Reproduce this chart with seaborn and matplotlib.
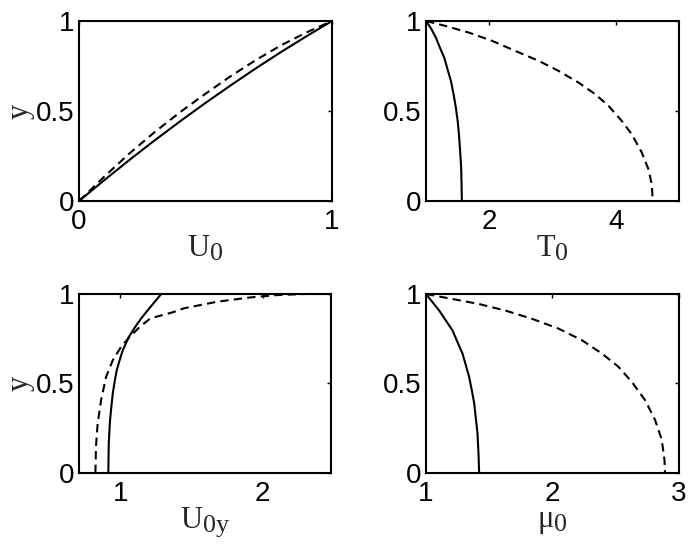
import numpy as np
import pandas as pd
import matplotlib
matplotlib.use("Agg")
import matplotlib.pyplot as plt
import matplotlib._mathtext as _mt
import seaborn as sns

_mt.SHRINK_FACTOR = 0.85

sns.set_style("white")
plt.rcParams.update({
    "font.family": ["Liberation Sans", "DejaVu Sans"],
    "mathtext.fontset": "custom",
    "mathtext.rm": "Liberation Serif",
    "mathtext.it": "Liberation Serif:italic",
    "xtick.direction": "in",
    "ytick.direction": "in",
    "xtick.top": True,
    "ytick.right": True,
    "axes.linewidth": 1.5,
    "axes.edgecolor": "black",
})

# Panel 1: y vs U_0
u0_x = [0.0, 0.1, 0.2, 0.3, 0.4, 0.5, 0.6, 0.7, 0.8, 0.9, 1.0]
u0_solid_y = [0.0, 0.116, 0.229, 0.338, 0.443, 0.545, 0.643, 0.738, 0.829, 0.916, 1.0]
u0_dash_y = [0.0, 0.136, 0.265, 0.384, 0.494, 0.596, 0.694, 0.784, 0.866, 0.937, 1.0]

# Panel 2: y vs T_0
t0_solid_x = [1.0, 1.079, 1.157, 1.220, 1.289, 1.341, 1.394, 1.436, 1.472, 1.504,
              1.525, 1.541, 1.556, 1.562, 1.567]
t0_solid_y = [1.0, 0.959, 0.907, 0.852, 0.796, 0.731, 0.667, 0.593, 0.519, 0.435,
              0.352, 0.269, 0.185, 0.093, 0.0]
t0_dash_x = [1.0, 1.315, 1.682, 2.05, 2.417, 2.785, 3.1, 3.415, 3.677, 3.887,
             4.097, 4.255, 4.412, 4.517, 4.57, 4.585]
t0_dash_y = [1.0, 0.972, 0.935, 0.889, 0.833, 0.778, 0.722, 0.657, 0.593, 0.528,
             0.444, 0.37, 0.269, 0.176, 0.093, 0.0]

# Panel 3: y vs U_0y
u0y_solid_x = [0.916, 0.917, 0.919, 0.923, 0.928, 0.937, 0.947, 0.960, 0.975, 0.995,
               1.017, 1.059, 1.111, 1.145, 1.181, 1.230, 1.287]
u0y_solid_y = [0.0, 0.08, 0.167, 0.23, 0.296, 0.37, 0.444, 0.51, 0.574, 0.63,
               0.685, 0.759, 0.824, 0.862, 0.898, 0.945, 1.0]
u0y_dash_x = [0.825, 0.829, 0.841, 0.865, 0.900, 0.947, 1.005, 1.064, 1.135, 1.211,
              1.369, 1.446, 1.681, 1.915, 2.10, 2.30, 2.48]
u0y_dash_y = [0.0, 0.148, 0.278, 0.407, 0.537, 0.63, 0.704, 0.759, 0.815, 0.864,
              0.898, 0.92, 0.957, 0.981, 0.994, 1.0, 1.0]

# Panel 4: y vs mu_0
mu0_solid_x = [1.0, 1.052, 1.105, 1.157, 1.21, 1.249, 1.289, 1.315, 1.341, 1.362,
               1.381, 1.394, 1.407, 1.415, 1.42]
mu0_solid_y = [1.0, 0.954, 0.907, 0.852, 0.796, 0.731, 0.667, 0.602, 0.537, 0.463,
               0.389, 0.306, 0.222, 0.111, 0.0]
mu0_dash_x = [1.0, 1.21, 1.42, 1.63, 1.84, 2.05, 2.234, 2.391, 2.522, 2.627,
              2.732, 2.811, 2.864, 2.885, 2.89]
mu0_dash_y = [1.0, 0.972, 0.944, 0.907, 0.861, 0.806, 0.741, 0.667, 0.593, 0.509,
              0.407, 0.296, 0.185, 0.074, 0.0]

y_ticks = [0, 0.5, 1]
y_ticklabels = ["0", "0.5", "1"]

panels = [
    dict(sx=u0_x, sy=u0_solid_y, dx=u0_x, dy=u0_dash_y, xlim=(0, 1),
         xticks=[0, 1], xticklabels=["0", "1"], xlabel=r"$\mathrm{U}_\mathrm{0}$", ylabel="y"),
    dict(sx=t0_solid_x, sy=t0_solid_y, dx=t0_dash_x, dy=t0_dash_y, xlim=(1, 5),
         xticks=[2, 4], xticklabels=["2", "4"], xlabel=r"$\mathrm{T}_\mathrm{0}$", ylabel=None),
    dict(sx=u0y_solid_x, sy=u0y_solid_y, dx=u0y_dash_x, dy=u0y_dash_y, xlim=(0.71, 2.48),
         xticks=[1, 2], xticklabels=["1", "2"], xlabel=r"$\mathrm{U}_\mathrm{0y}$", ylabel="y"),
    dict(sx=mu0_solid_x, sy=mu0_solid_y, dx=mu0_dash_x, dy=mu0_dash_y, xlim=(1, 3),
         xticks=[1, 2, 3], xticklabels=["1", "2", "3"], xlabel=r"$\mathrm{μ}_\mathrm{0}$", ylabel=None),
]

positions = [
    [0.1142, 0.6332, 0.3656, 0.3285],
    [0.6156, 0.6332, 0.3656, 0.3285],
    [0.1142, 0.1369, 0.3642, 0.3266],
    [0.6156, 0.1369, 0.3656, 0.3266],
]

fig = plt.figure(figsize=(6.92, 5.48), dpi=100)
for p, pos in zip(panels, positions):
    ax = fig.add_axes(pos)
    ds = pd.DataFrame({"x": p["sx"], "y": p["sy"]})
    dd = pd.DataFrame({"x": p["dx"], "y": p["dy"]})
    sns.lineplot(data=ds, x="x", y="y", sort=False, estimator=None, ax=ax,
                 color="black", linewidth=1.5)
    sns.lineplot(data=dd, x="x", y="y", sort=False, estimator=None, ax=ax,
                 color="black", linewidth=1.5, linestyle=(0, (4, 2.5)))
    ax.set_xlim(*p["xlim"])
    ax.set_ylim(0, 1)
    ax.set_xticks(p["xticks"])
    ax.set_xticklabels(p["xticklabels"])
    ax.set_yticks(y_ticks)
    ax.set_yticklabels(y_ticklabels)
    ax.tick_params(axis="both", which="both", length=3, width=1, labelsize=20,
                   colors="black", top=True, right=True)
    ax.tick_params(axis="x", pad=6)
    ax.tick_params(axis="y", pad=3)
    ax.set_xlabel(p["xlabel"], fontsize=22, labelpad=-1)
    if p["ylabel"]:
        ax.set_ylabel(p["ylabel"], fontsize=22, labelpad=1,
                      fontfamily="Liberation Serif")
    else:
        ax.set_ylabel("")
    for s in ax.spines.values():
        s.set_linewidth(1.5)
        s.set_color("black")

fig.savefig("out.png", dpi=100)
